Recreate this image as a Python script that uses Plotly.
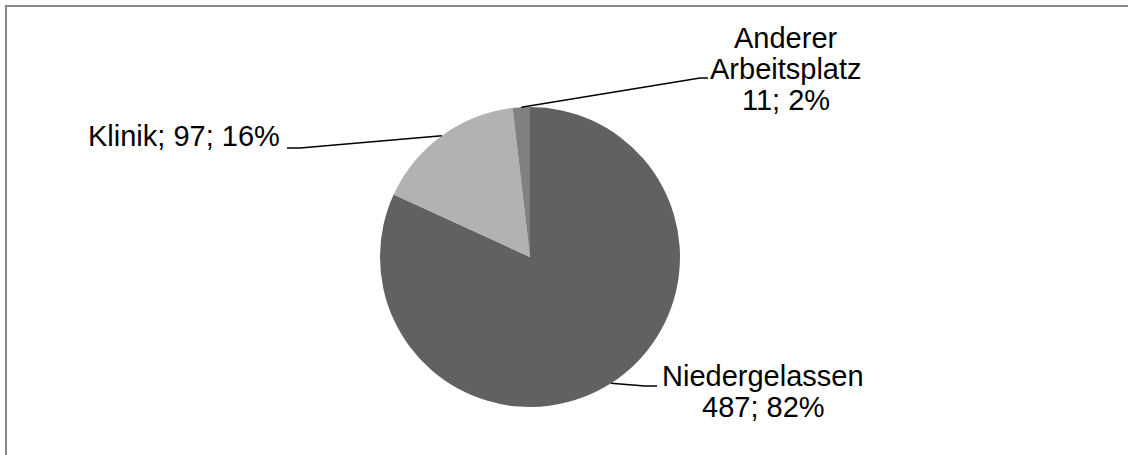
import math
import plotly.graph_objects as go

# Data
categories = ["Niedergelassen", "Klinik", "Anderer Arbeitsplatz"]
counts = [487, 97, 11]
slice_colors = ["#616161", "#b2b2b2", "#808080"]

# Canvas and pie geometry (pixels)
W, H = 1128, 455
CX, CY, R = 530, 257, 150
FONT = dict(family="Liberation Sans, Arial, sans-serif", size=29, color="#000000")
LINE_GAP = 31          # baseline-to-baseline distance of stacked label lines
BASE_TO_MID = 10       # baseline offset to vertical middle of a text line

total = sum(counts)
pcts = [round(100 * c / total) for c in counts]

# Label layout per category: text anchor, alignment, baseline of first line,
# elbow point and end point of the leader line
label_layout = {
    "Niedergelassen": dict(x=763, base=386, align="center", elbow=(645, 386), end=(657, 386)),
    "Klinik": dict(x=281, base=146, align="right", elbow=(300, 148), end=(287, 148)),
    "Anderer Arbeitsplatz": dict(x=786, base=47.5, align="center", elbow=(700, 78), end=(708, 78)),
}


def label_lines(name, value, pct):
    if name == "Klinik":
        return [f"{name}; {value}; {pct}%"]
    if name == "Niedergelassen":
        return [name, f"{value}; {pct}%"]
    return name.split(" ") + [f"{value}; {pct}%"]


fig = go.Figure()

fig.add_trace(go.Pie(
    labels=categories,
    values=counts,
    sort=False,
    direction="clockwise",
    rotation=0,
    textinfo="none",
    hoverinfo="skip",
    marker=dict(colors=slice_colors, line=dict(width=0)),
    showlegend=False,
    domain=dict(x=[(CX - R) / W, (CX + R) / W], y=[1 - (CY + R) / H, 1 - (CY - R) / H]),
))

annotations = []
shapes = []


def px_x(v):
    return v / W


def px_y(v):
    return 1 - v / H


# Chart frame: a grey panel with a white panel inset by the border width,
# both running past the right and bottom edges of the canvas
shapes.append(dict(type="rect", xref="paper", yref="paper", layer="below",
                   x0=px_x(5), y0=px_y(H + 40), x1=px_x(W + 40), y1=px_y(5),
                   fillcolor="#898989", line=dict(width=0)))
shapes.append(dict(type="rect", xref="paper", yref="paper", layer="below",
                   x0=px_x(7), y0=px_y(H + 40), x1=px_x(W + 40), y1=px_y(7),
                   fillcolor="#ffffff", line=dict(width=0)))

cum = 0
for name, value, pct in zip(categories, counts, pcts):
    mid = (cum + value / 2) / total * 2 * math.pi
    cum += value
    sx = CX + R * math.sin(mid)
    sy = CY - R * math.cos(mid)
    lay = label_layout[name]
    ex, ey = lay["elbow"]
    tx, ty = lay["end"]
    shapes.append(dict(type="path", xref="x", yref="y",
                       path=f"M {sx:.2f},{sy:.2f} L {ex},{ey} L {tx},{ty}",
                       line=dict(color="#000000", width=1.5), layer="above"))
    xanchor = {"center": "center", "right": "right", "left": "left"}[lay["align"]]
    for i, line in enumerate(label_lines(name, value, pct)):
        annotations.append(dict(
            xref="x", yref="y", x=lay["x"], y=lay["base"] + i * LINE_GAP - BASE_TO_MID,
            text=line, showarrow=False, xanchor=xanchor, yanchor="middle",
            font=FONT, borderpad=0,
        ))

fig.update_layout(
    width=W, height=H,
    margin=dict(l=0, r=0, t=0, b=0),
    paper_bgcolor="#ffffff",
    plot_bgcolor="rgba(0,0,0,0)",
    xaxis=dict(range=[0, W], visible=False, fixedrange=True),
    yaxis=dict(range=[H, 0], visible=False, fixedrange=True),
    shapes=shapes,
    annotations=annotations,
    showlegend=False,
)

fig.write_html(
    "out.html",
    config={"displayModeBar": False, "staticPlot": True},
    post_script="document.documentElement.style.overflow='hidden';"
                "document.body.style.margin='0';document.body.style.overflow='hidden';",
)
